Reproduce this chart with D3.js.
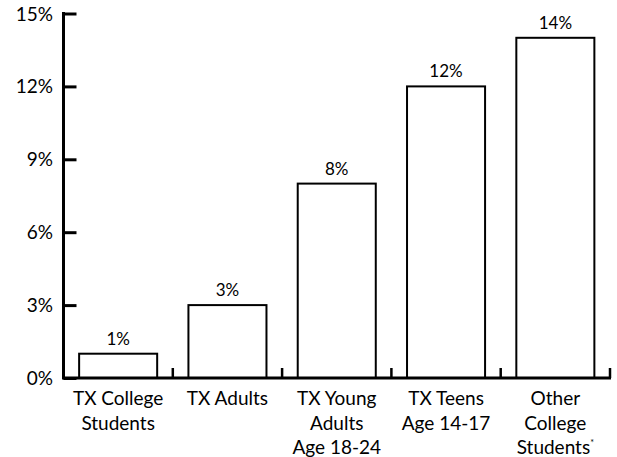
<!DOCTYPE html>
<html>
<head>
<meta charset="utf-8">
<script src="https://cdn.jsdelivr.net/npm/d3@7"></script>
<style>
  html, body { margin: 0; padding: 0; background: #fff; }
  svg { display: block; font-family: Lato, "Open Sans", sans-serif; }
</style>
</head>
<body>
<svg id="chart" width="617" height="457"></svg>
<script>
// Share of each group (percent)
const categories = [
  ["TX College", "Students"],
  ["TX Adults"],
  ["TX Young", "Adults", "Age 18-24"],
  ["TX Teens", "Age 14-17"],
  ["Other", "College", "Students*"]
];
const values = [1, 3, 8, 12, 14];
const yTicks = [0, 3, 6, 9, 12, 15];

const svg = d3.select("#chart");
const x0 = 63.5, x1 = 610, yBase = 378, yTop = 13.5;

const x = d3.scaleBand()
  .domain(d3.range(values.length))
  .range([x0, x1])
  .paddingInner(0.286)
  .paddingOuter(0.143);

const y = d3.scaleLinear().domain([0, 15]).range([yBase, yTop]);

// Bars
svg.append("g").selectAll("rect")
  .data(values)
  .join("rect")
  .attr("x", (d, i) => x(i))
  .attr("y", d => y(d))
  .attr("width", x.bandwidth())
  .attr("height", d => y(0) - y(d))
  .attr("fill", "#fff")
  .attr("stroke", "#000")
  .attr("stroke-width", 2);

// Value labels
svg.append("g").selectAll("text")
  .data(values)
  .join("text")
  .attr("x", (d, i) => x(i) + x.bandwidth() / 2)
  .attr("y", d => y(d) - 9)
  .attr("text-anchor", "middle")
  .attr("font-size", 17)
  .attr("fill", "#000")
  .text(d => d + "%");

// Y axis with inward ticks
const yAxis = d3.axisRight(y)
  .tickValues(yTicks)
  .tickSize(13)
  .tickFormat(() => "");
const gy = svg.append("g").attr("transform", `translate(${x0},0)`).call(yAxis);
gy.select(".domain").remove();
gy.selectAll(".tick line").attr("stroke", "#000").attr("stroke-width", 3);
svg.append("line")
  .attr("x1", x0).attr("x2", x0)
  .attr("y1", y(15) - 1.5).attr("y2", yBase + 1.5)
  .attr("stroke", "#000").attr("stroke-width", 3);

svg.append("g").selectAll("text")
  .data(yTicks)
  .join("text")
  .attr("x", 53)
  .attr("y", d => y(d) + 7)
  .attr("text-anchor", "end")
  .attr("font-size", 19)
  .attr("fill", "#000")
  .text(d => d + "%");

// X axis baseline and separator ticks between categories
svg.append("line")
  .attr("x1", x0).attr("x2", x1 + 1)
  .attr("y1", yBase).attr("y2", yBase)
  .attr("stroke", "#000").attr("stroke-width", 3);

const step = x.step();
svg.append("g").selectAll("line")
  .data(d3.range(1, values.length + 1))
  .join("line")
  .attr("x1", i => x0 + i * step)
  .attr("x2", i => x0 + i * step)
  .attr("y1", yBase - 10)
  .attr("y2", yBase)
  .attr("stroke", "#000")
  .attr("stroke-width", 2.5);

// Category labels
const lab = svg.append("g").selectAll("text")
  .data(categories)
  .join("text")
  .attr("x", (d, i) => x(i) + x.bandwidth() / 2)
  .attr("y", 405)
  .attr("text-anchor", "middle")
  .attr("font-size", 19)
  .attr("fill", "#000");

lab.each(function(lines) {
  const t = d3.select(this);
  const cx = t.attr("x");
  lines.forEach((s, k) => {
    const ts = t.append("tspan").attr("x", cx).attr("dy", k === 0 ? 0 : 24.5);
    if (s.endsWith("*")) {
      ts.append("tspan").text(s.slice(0, -1));
      t.append("tspan").attr("dy", -8).attr("font-size", 9).text("*");
    } else {
      ts.text(s);
    }
  });
});
</script>
</body>
</html>
